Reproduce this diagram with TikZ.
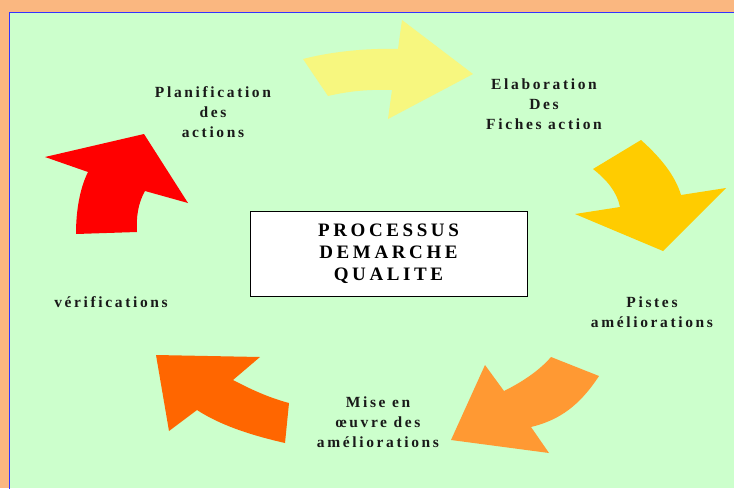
\documentclass[tikz,border=0pt]{standalone}
\usepackage{fontspec}
\setmainfont{Liberation Serif}
\newfontfamily\lblfont{Liberation Serif}[LetterSpace=17]
\newfontfamily\boxfont{Liberation Serif}[LetterSpace=19]
\definecolor{bgorange}{HTML}{FAB780}
\definecolor{bggreen}{HTML}{CCFFCC}
\definecolor{bdblue}{HTML}{3333FF}
\definecolor{cyellow}{HTML}{F7F77F}
\definecolor{cgold}{HTML}{FFCC00}
\definecolor{corange}{HTML}{FF9933}
\definecolor{cdark}{HTML}{FF6600}
\definecolor{cred}{HTML}{FF0000}
\tikzset{
  lbl/.style={font=\lblfont\bfseries\fontsize{15.5}{20}\selectfont, align=center, inner sep=0pt, text=black!90},
  titlebox/.style={draw=black, fill=white, line width=0.8pt, minimum width=277pt, minimum height=85pt, align=center, font=\boxfont\bfseries\fontsize{19}{22}\selectfont},
  shp/.style={draw=none}
}
\begin{document}
\begin{tikzpicture}[x=1pt,y=-1pt]
\useasboundingbox (0,0) rectangle (734,488);
% backgrounds
\fill[bgorange] (0,0) rectangle (734,488);
\fill[bggreen] (9.5,12) rectangle (734,488);
\draw[bdblue, line width=1pt] (9.5,490) -- (9.5,12) -- (736,12);
% arrows
\fill[cyellow] (303,59) .. controls (330,52) and (365,48) .. (398,49) -- (402,20) -- (473,74) -- (388,119) -- (392,90) .. controls (365,89) and (345,92) .. (328,96) -- cycle;
\fill[cgold] (641,140) .. controls (660,157) and (675,175) .. (681,195) -- (726,188) -- (663,251) -- (575,214) -- (620,207) .. controls (617,192) and (607,180) .. (593,169) -- cycle;
\fill[corange] (551,357) -- (599,376) .. controls (580,405) and (560,420) .. (531,427) -- (549,453) -- (451,440) -- (485,365) -- (504,391) .. controls (520,383) and (538,372) .. (551,357) -- cycle;
\fill[cdark] (156,355) -- (260,357) -- (233,380) .. controls (252,390) and (270,398) .. (289,403) -- (285,443) .. controls (250,435) and (220,425) .. (197,410) -- (169,431) -- cycle;
\fill[cred] (45,157) -- (144,134) -- (188,203) -- (145,191) .. controls (138,203) and (136,218) .. (137,232) -- (76,234) .. controls (76,210) and (80,188) .. (88,172) -- cycle;
% title box
\node[titlebox] (title) at (388.5,253.5) {PROCESSUS\\DEMARCHE\\QUALITE};
% labels
\node[lbl] (plan) at (213,112) {Planification\\des\\actions};
\node[lbl] (elab) at (544,104) {Elaboration\\Des\\Fiches action};
\node[lbl] (pistes) at (652,312) {Pistes\\améliorations};
\node[lbl] (mise) at (378,422) {Mise en\\œuvre des\\améliorations};
\node[lbl] (verif) at (111,302) {vérifications};
\end{tikzpicture}
\end{document}
